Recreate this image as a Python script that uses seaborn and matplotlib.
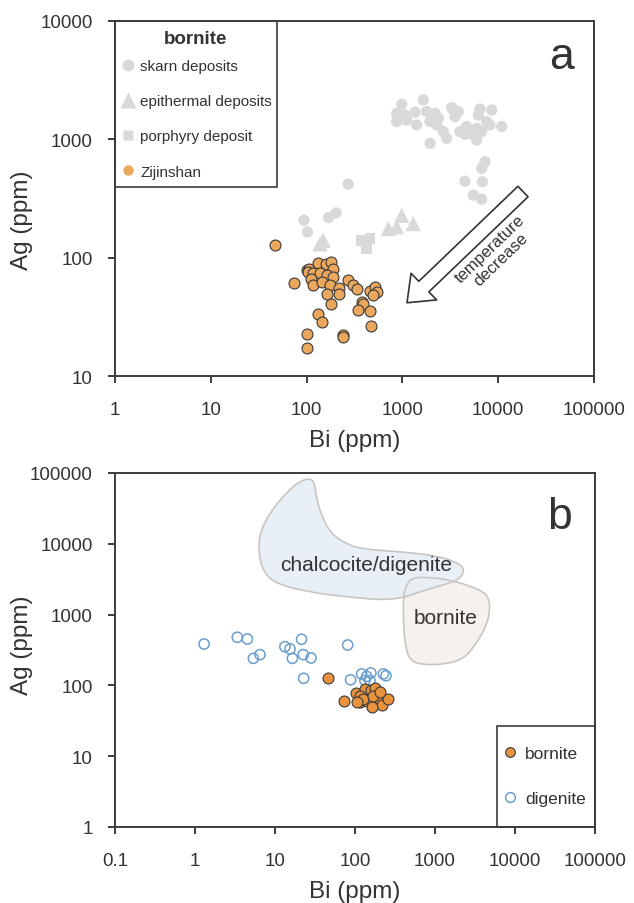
import numpy as np
import pandas as pd
import matplotlib
matplotlib.use("Agg")
import matplotlib.pyplot as plt
import seaborn as sns
from matplotlib.lines import Line2D
from matplotlib.patches import PathPatch, Rectangle
from matplotlib.path import Path
from matplotlib.ticker import FixedLocator, FixedFormatter, NullLocator

# ---------------- Panel a data ----------------
skarn_bi = [94, 102, 169, 203, 272,
            984, 1652, 3268, 3834, 6457, 8551, 871, 1064, 1354, 1792, 2189, 2370,
            871, 1109, 1410, 1942, 2279, 2673, 2899, 1942, 3399, 3540, 3992, 4690,
            5497, 5962, 6207, 6720, 7588, 8209, 10870, 5962, 4500, 7280, 6720,
            4500, 6828, 5497, 6720]
skarn_ag = [207, 165, 218, 239, 418,
            1982, 2153, 1857, 1717, 1807, 1772, 1660, 1607, 1693, 1717, 1660, 1507,
            1413, 1458, 1322, 1413, 1322, 1162, 1019, 925, 1772, 1556, 1162, 1281,
            1087, 986, 1607, 1162, 1413, 1322, 1281, 1240, 1103, 647, 568,
            443, 438, 337, 312]

epi_bi = [138, 149, 713, 871, 984, 1300]
epi_ag = [131, 140, 176, 182, 228, 194]

por_bi = [376, 459, 424]
por_ag = [140, 145, 119]

zij_bi = [46.4, 74.4, 102, 107, 132, 160, 178, 190, 104, 117.5, 138, 162, 190, 110,
          117.5, 145, 175, 220, 162, 220, 178, 273, 308, 333, 459, 518, 547, 490,
          376, 391, 347, 459, 467, 132, 144, 100, 100, 238, 241]
zij_ag = [128, 61.4, 78, 80.7, 90, 87.7, 92, 80.7, 75.7, 74.6, 74.6, 71.8, 68.6, 66.4,
          59, 62.2, 58.2, 55.4, 48.9, 49.5, 40.7, 64.2, 58.2, 53.9, 51.8, 56.4, 51.2, 48,
          42.1, 40.7, 35.8, 35.1, 26.7, 33.1, 28.5, 22.7, 17.2, 22.4, 21.5]

# ---------------- Panel b data ----------------
dig_bi = [1.30, 3.38, 4.51, 5.36, 6.49, 13.3, 15.4, 21.5, 16.5, 22.6, 28.2, 22.8,
          81, 88, 121, 158, 226, 244, 133, 154, 140]
dig_ag = [384, 478, 452, 241, 272, 352, 327, 448, 241, 272, 244, 126,
          372, 120, 145, 150, 145, 137, 117, 117, 134]

bor_bi = [46, 73.5, 102, 115.5, 133, 157, 178, 143, 190, 219, 261, 162, 115, 127,
          169, 205, 105]
bor_ag = [126, 60.8, 77, 57.7, 89, 87, 91, 60.8, 65.7, 52.9, 64.3, 49, 71.6, 64.3,
          71.6, 80, 57.7]

# field outlines (log10 Bi, log10 Ag)
chalc_logbi = [1.458, 1.5, 1.521, 1.583, 1.6875, 1.854, 2.0625, 2.5625, 3.021, 3.271,
               3.375, 3.3125, 3.146, 2.854, 2.479, 1.9375, 1.4375, 1.021, 0.854,
               0.791, 0.8125, 0.9375, 1.146, 1.3125]
chalc_logag = [4.925, 4.821, 4.633, 4.397, 4.162, 4.021, 3.927, 3.889, 3.832, 3.739,
               3.644, 3.503, 3.432, 3.338, 3.196, 3.244, 3.315, 3.432, 3.597,
               3.880, 4.162, 4.445, 4.727, 4.891]
bfield_logbi = [2.646, 2.7125, 2.896, 3.1875, 3.4375, 3.6125, 3.675, 3.6875, 3.646,
                3.5, 3.354, 3.146, 2.854, 2.6875, 2.625, 2.604, 2.604]
bfield_logag = [3.432, 3.517, 3.531, 3.489, 3.404, 3.319, 3.220, 3.079, 2.843,
                2.561, 2.373, 2.302, 2.288, 2.349, 2.561, 2.938, 3.267]

xticks_a = [1, 10, 100, 1000, 10000, 100000]
xlabels_a = ["1", "10", "100", "1000", "10000", "100000"]
yticks_a = [10, 100, 1000, 10000]
ylabels_a = ["10", "100", "1000", "10000"]
xticks_b = [0.1, 1, 10, 100, 1000, 10000, 100000]
xlabels_b = ["0.1", "1", "10", "100", "1000", "10000", "100000"]
yticks_b = [1, 10, 100, 1000, 10000, 100000]
ylabels_b = ["1", "10", "100", "1000", "10000", "100000"]

# ---------------- style ----------------
sns.set_style("white")
plt.rcParams["font.family"] = ["Liberation Sans", "DejaVu Sans"]
TXT = "#333333"
SP = "#3c3c3c"
GRAY = "#D9D9D9"
ORA_A = "#EBA75C"
ORA_B = "#E8923E"
BLUE = "#6A9ECF"

fig = plt.figure(figsize=(6.34, 9.04), dpi=100)
ax1 = fig.add_axes([115 / 634, 1 - 377 / 904, 479 / 634, 355 / 904])
ax2 = fig.add_axes([115 / 634, 1 - 828 / 904, 480 / 634, 354 / 904])


def style_axis(ax, xt, xl, yt, yl, xlim, ylim, ylab_y):
    ax.set_xscale("log")
    ax.set_yscale("log")
    ax.set_xlim(*xlim)
    ax.set_ylim(*ylim)
    ax.xaxis.set_major_locator(FixedLocator(xt))
    ax.xaxis.set_major_formatter(FixedFormatter(xl))
    ax.yaxis.set_major_locator(FixedLocator(yt))
    ax.yaxis.set_major_formatter(FixedFormatter(yl))
    ax.xaxis.set_minor_locator(NullLocator())
    ax.yaxis.set_minor_locator(NullLocator())
    for s in ax.spines.values():
        s.set_visible(True)
        s.set_color(SP)
        s.set_linewidth(1.4)
    ax.tick_params(axis="both", which="major", direction="out", length=5, width=1.4,
                   color=SP, labelsize=13.5, labelcolor=TXT, bottom=True, left=True)
    ax.tick_params(axis="x", pad=13)
    ax.tick_params(axis="y", pad=11)
    ax.set_xlabel("Bi (ppm)", fontsize=17.5, color=TXT)
    ax.set_ylabel("Ag (ppm)", fontsize=17.5, color=TXT)
    ax.xaxis.set_label_coords(0.5, -0.149)
    ax.yaxis.set_label_coords(-0.171, ylab_y)


# ---------------- Panel a ----------------
sns.scatterplot(x=skarn_bi, y=skarn_ag, ax=ax1, marker="o", s=66, color=GRAY,
                edgecolor="none", linewidth=0, legend=False, zorder=3)
sns.scatterplot(x=epi_bi, y=epi_ag, ax=ax1, marker="^", s=120, color=GRAY,
                edgecolor="none", linewidth=0, legend=False, zorder=3)
sns.scatterplot(x=por_bi, y=por_ag, ax=ax1, marker="s", s=60, color=GRAY,
                edgecolor="none", linewidth=0, legend=False, zorder=3)
sns.scatterplot(x=zij_bi, y=zij_ag, ax=ax1, marker="o", s=62, color=ORA_A,
                edgecolor="#3a3a3a", linewidth=0.8, legend=False, zorder=4)

style_axis(ax1, xticks_a, xlabels_a, yticks_a, ylabels_a, (1, 1e5), (10, 1e4), 0.442)

# arrow
ax1.annotate("", xy=(1117, 41.6), xytext=(18150, 362),
             arrowprops=dict(arrowstyle="simple,head_length=1.2,head_width=1.9,tail_width=0.75",
                             mutation_scale=14, fc="white", ec="#333333", lw=1.2,
                             shrinkA=0, shrinkB=0), zorder=5)
ax1.text(9300, 108, "temperature\ndecrease", rotation=44, rotation_mode="anchor",
         ha="center", va="center", fontsize=12, color=TXT, linespacing=1.05, zorder=6)

ax1.text(0.933, 0.899, "a", transform=ax1.transAxes, ha="center", va="center",
         fontsize=32, color=TXT)

# legend a
ax1.text((196 - 115) / 479, (377 - 40) / 355, "bornite", transform=ax1.transAxes,
         ha="center", va="center", fontsize=13.5, fontweight="bold", color=TXT, zorder=7)
h_a = [Line2D([], [], ls="", marker="o", ms=8.6, mfc=GRAY, mec="none"),
       Line2D([], [], ls="", marker="^", ms=11, mfc=GRAY, mec="none"),
       Line2D([], [], ls="", marker="s", ms=7.5, mfc=GRAY, mec="none"),
       Line2D([], [], ls="", marker="o", ms=7.5, mfc=ORA_A, mec="none")]
leg_a = ax1.legend(h_a, ["skarn deposits", "epithermal deposits", "porphyry deposit", "Zijinshan"],
                   loc="upper left", bbox_to_anchor=(0.002, (377 - 53.8) / 355), frameon=False,
                   fontsize=11, borderpad=0.4, handlelength=0.78, handletextpad=0.4,
                   labelspacing=1.39, borderaxespad=0)
for t in leg_a.get_texts():
    t.set_color(TXT)
ax1.add_patch(Rectangle((0, (377 - 188) / 355), (277 - 115) / 479, (188 - 22) / 355,
                        transform=ax1.transAxes, fill=False, ec=SP, lw=1.2, zorder=6,
                        clip_on=False))

# ---------------- Panel b ----------------
def smooth_path(lx, ly):
    px = np.array(lx)
    py = np.array(ly)
    n = len(px)
    mx = (px + np.roll(px, -1)) / 2
    my = (py + np.roll(py, -1)) / 2
    verts = [(10 ** mx[0], 10 ** my[0])]
    codes = [Path.MOVETO]
    for i in range(1, n + 1):
        j = i % n
        verts.append((10 ** px[j], 10 ** py[j]))
        verts.append((10 ** mx[j], 10 ** my[j]))
        codes += [Path.CURVE3, Path.CURVE3]
    return Path(verts, codes)


bpath = smooth_path(bfield_logbi, bfield_logag)
cpath = smooth_path(chalc_logbi, chalc_logag)
ax2.add_patch(PathPatch(bpath, fc="#F7F1EE", ec="none", zorder=1))
ax2.add_patch(PathPatch(cpath, fc="#E6EEF5", ec="none", alpha=0.9, zorder=1.2))
ax2.add_patch(PathPatch(bpath, fc="none", ec="#C9C5C3", lw=1.2, zorder=1.5))
ax2.add_patch(PathPatch(cpath, fc="none", ec="#C9C5C3", lw=1.2, zorder=1.5))

ax2.text(137, 5050, "chalcocite/digenite", ha="center", va="center", fontsize=15, color=TXT)
ax2.text(1373, 900, "bornite", ha="center", va="center", fontsize=15, color=TXT)

sns.scatterplot(x=dig_bi, y=dig_ag, ax=ax2, marker="o", s=54, facecolor="none",
                edgecolor=BLUE, linewidth=1.1, legend=False, zorder=3)
sns.scatterplot(x=bor_bi, y=bor_ag, ax=ax2, marker="o", s=62, color=ORA_B,
                edgecolor="#3a3a3a", linewidth=0.8, legend=False, zorder=4)

style_axis(ax2, xticks_b, xlabels_b, yticks_b, ylabels_b, (0.1, 1e5), (1, 1e5), 0.517)

ax2.text(0.927, 0.876, "b", transform=ax2.transAxes, ha="center", va="center",
         fontsize=32, color=TXT)

h_b = [Line2D([], [], ls="", marker="o", ms=7, mfc=ORA_B, mec="#3a3a3a", mew=0.8),
       Line2D([], [], ls="", marker="o", ms=7, mfc="none", mec=BLUE, mew=1.1)]
leg_b = ax2.legend(h_b, ["bornite", "digenite"], loc="upper left",
                   bbox_to_anchor=((497 - 115) / 480, (828 - 742) / 354), frameon=False,
                   fontsize=12.5, borderpad=0.3, handlelength=0.9, handletextpad=0.4,
                   labelspacing=1.72, borderaxespad=0)
for t in leg_b.get_texts():
    t.set_color(TXT)
ax2.add_patch(Rectangle(((497 - 115) / 480, 0), (595 - 497) / 480, (828 - 727) / 354,
                        transform=ax2.transAxes, fill=False, ec=SP, lw=1.2, zorder=6,
                        clip_on=False))

fig.savefig("out.png", dpi=100)
